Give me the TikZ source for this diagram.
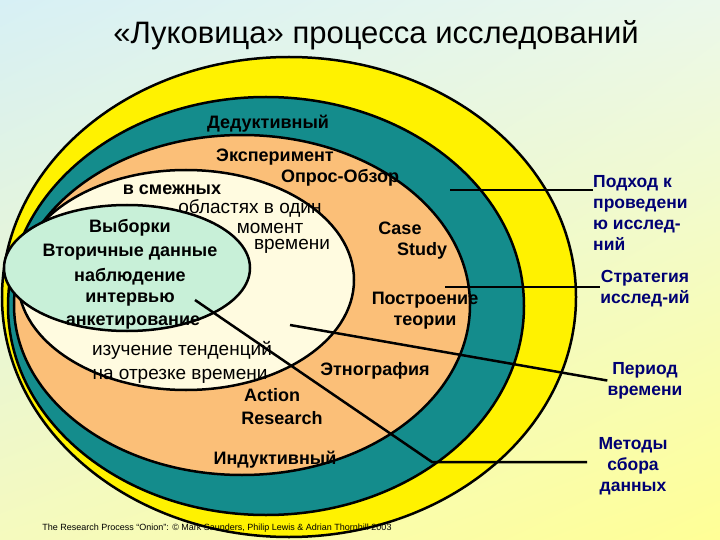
\documentclass[tikz,border=0pt]{standalone}
\usepackage{fontspec}
\setmainfont{Liberation Sans}
\usetikzlibrary{shadings}
\begin{document}
\begin{tikzpicture}[x=1pt,y=-1pt,
  ring/.style={draw=black,line width=2.5pt},
  lbl/.style={font=\bfseries\fontsize{18}{20}\selectfont,inner sep=0pt,align=center},
  rlbl/.style={font=\bfseries\fontsize{17.5}{21}\selectfont,inner sep=0pt,align=left,text=blue!45!black,anchor=north west},
  plain/.style={font=\fontsize{19}{21}\selectfont,inner sep=0pt},
  conn/.style={line width=2.5pt}]
\definecolor{tealc}{HTML}{148C8C}
\definecolor{orangec}{HTML}{FBBF78}
\definecolor{creamc}{HTML}{FFFBE0}
\definecolor{greenc}{HTML}{C8F0D8}
\definecolor{bgul}{RGB}{215,240,245}
\definecolor{bglr}{RGB}{255,255,150}
\definecolor{bgur}{RGB}{235,248,235}
\definecolor{bgll}{RGB}{245,250,190}
\shade[upper left=bgul,lower right=bglr,upper right=bgur,lower left=bgll] (0,0) rectangle (720,540);
\useasboundingbox (0,0) rectangle (720,540);
\path[ring,fill=yellow] (289,297) ellipse [x radius=287, y radius=240];
\path[ring,fill=tealc] (266,306) ellipse [x radius=258, y radius=209];
\path[ring,fill=orangec] (242,305) ellipse [x radius=228, y radius=170];
\path[ring,fill=creamc] (186,280) ellipse [x radius=168, y radius=110];
\path[ring,fill=greenc] (127,268) ellipse [x radius=123, y radius=63];
\node[font=\fontsize{31}{33}\selectfont] (title) at (376,35) {«Луковица» процесса исследований};
\node[lbl] (ded) at (268,124) {Дедуктивный};
\node[lbl] (exp) at (275,157) {Эксперимент};
\node[lbl] (opr) at (340,178) {Опрос-Обзор};
\node[lbl] (sm) at (172,190) {в смежных};
\node[plain] (obl) at (250,208) {областях в один};
\node[plain] (mom) at (270,228) {момент};
\node[plain] (vr) at (292,246) {времени};
\node[lbl] (vyb) at (130,228) {Выборки};
\node[lbl] (vtor) at (130,252) {Вторичные данные};
\node[lbl] (nab) at (130,277) {наблюдение};
\node[lbl] (int) at (130,300) {интервью};
\node[lbl] (ank) at (133,323) {анкетирование};
\node[lbl] (case) at (400,228) {Case};
\node[lbl] (study) at (422,251) {Study};
\node[lbl] (post) at (425,300) {Построение};
\node[lbl] (teor) at (425,323) {теории};
\node[plain] (izu) at (182,350) {изучение тенденций};
\node[plain] (nao) at (180,376) {на отрезке времени};
\node[lbl] (etn) at (375,371) {Этнография};
\node[lbl] (act) at (272,395) {Action};
\node[lbl] (res) at (282,418) {Research};
\node[lbl] (ind) at (275,460) {Индуктивный};
\node[rlbl] (r1) at (593,175) {Подход к\\проведени\\ю исслед-\\ний};
\node[rlbl,align=center,anchor=north] (r2) at (645,270) {Стратегия\\исслед-ий};
\node[rlbl,align=center,anchor=north] (r3) at (645,362) {Период\\времени};
\node[rlbl,align=center,anchor=north] (r4) at (633,437) {Методы\\сбора\\данных};
\node[font=\fontsize{9}{10}\selectfont] (foot) at (217,528) {The Research Process “Onion”: © Mark Saunders, Philip Lewis \& Adrian Thornhill 2003};
\coordinate (a1) at (450,190); \coordinate (a2) at (445,287);
\coordinate (a3) at (290,325); \coordinate (a4) at (195,300); \coordinate (k4) at (432,462);
\draw[conn] (a1) -- (r1.west |- a1);
\draw[conn] (a2) -- (r2.west |- a2);
\draw[conn] (a3) -- (r3.west);
\draw[conn] (a4) -- (k4) -- (587,462);
\end{tikzpicture}
\end{document}
